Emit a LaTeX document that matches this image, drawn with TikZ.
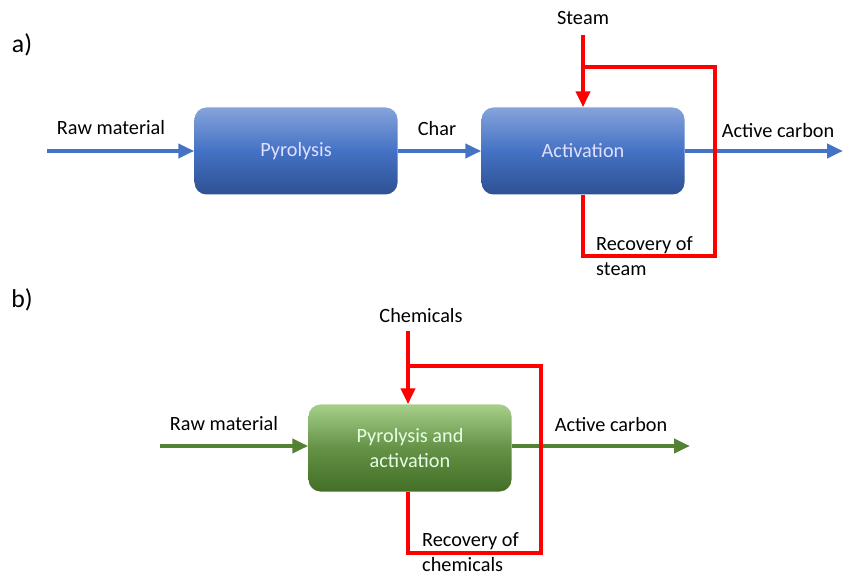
\documentclass[tikz,border=0pt]{standalone}
\usepackage{fontspec}
\setmainfont{Carlito}
\usepackage{tikz}
\usetikzlibrary{positioning}
\usetikzlibrary{arrows.meta}

\definecolor{flowBlue}{HTML}{4472C4}
\definecolor{flowGreen}{HTML}{548235}
\definecolor{loopRed}{HTML}{FF0000}
\definecolor{blueTop}{HTML}{86A3DA}
\definecolor{blueBtm}{HTML}{2E5193}
\definecolor{greenTop}{HTML}{A6D08A}
\definecolor{greenBtm}{HTML}{436E26}

\tikzset{
	lbl/.style={font=\fontsize{17.3}{21}\selectfont, inner sep=0pt},
	blueBox/.style={rectangle, rounded corners=0.36cm, minimum width=6.09cm, minimum height=2.61cm, top color=blueTop, bottom color=blueBtm, middle color=flowBlue, text=white!88!blue, font=\fontsize{17.3}{21}\selectfont, align=center},
	greenBox/.style={rectangle, rounded corners=0.36cm, minimum width=6.09cm, minimum height=2.61cm, top color=greenTop, bottom color=greenBtm, middle color=flowGreen!80!greenTop, text=white!90!green, font=\fontsize{17.3}{21}\selectfont, align=center},
	blueFlow/.style={draw=flowBlue, line width=0.12cm, -{Triangle[length=0.48cm, width=0.42cm]}},
	greenFlow/.style={draw=flowGreen, line width=0.12cm, -{Triangle[length=0.48cm, width=0.42cm]}},
	redFlow/.style={draw=loopRed, line width=0.12cm, -{Triangle[length=0.48cm, width=0.42cm]}},
	redLoop/.style={draw=loopRed, line width=0.12cm}
}

\begin{document}
\begin{tikzpicture}[x=0.03cm, y=-0.03cm]
	\useasboundingbox (0,0) rectangle (843,573);

	% a) two-step process
	\node[lbl, font=\fontsize{22}{26}\selectfont](labelA) at (22,45){a)};

	\node[blueBox](pyrolysis) at (296,151){Pyrolysis};
	\node[blueBox](activation) at (583,151){Activation};

	\coordinate(rawStartA) at (47,151);
	\coordinate(carbonEndA) at (843,151);
	\draw[blueFlow](rawStartA) -- (pyrolysis.west);
	\draw[blueFlow](pyrolysis.east) -- (activation.west);
	\draw[blueFlow](activation.east) -- (carbonEndA);

	\node[lbl](rawLabelA) at (111,128){Raw material};
	\node[lbl](charLabel) at (437,129){Char};
	\node[lbl](carbonLabelA) at (778,131){Active carbon};

	\node[lbl](steamLabel) at (583,18){Steam};
	\coordinate(steamTop) at (583,35);
	\coordinate(steamJoin) at (583,67);
	\draw[redFlow](steamTop) -- (activation.north);
	\draw[redLoop, line join=miter](activation.south) -- (583,256) -- (715,256) -- (715,67) -- (steamJoin);

	\node[lbl, anchor=west, align=left](steamRecovery) at (596,256){Recovery of\\steam};

	% b) one-step process
	\node[lbl, font=\fontsize{22}{26}\selectfont](labelB) at (22,300){b)};

	\node[greenBox](pyroActivation) at (410,448){Pyrolysis and\\activation};

	\coordinate(rawStartB) at (160,446);
	\coordinate(carbonEndB) at (690,446);
	\draw[greenFlow](rawStartB) -- (rawStartB -| pyroActivation.west);
	\draw[greenFlow](pyroActivation.east |- carbonEndB) -- (carbonEndB);

	\node[lbl](rawLabelB) at (224,424){Raw material};
	\node[lbl](carbonLabelB) at (611,425){Active carbon};

	\node[lbl](chemLabel) at (421,316){Chemicals};
	\coordinate(chemTop) at (408,331);
	\coordinate(chemJoin) at (408,366);
	\draw[redFlow](chemTop) -- (chemTop |- pyroActivation.north);
	\draw[redLoop, line join=miter](chemTop |- pyroActivation.south) -- (408,553) -- (541,553) -- (541,366) -- (chemJoin);

	\node[lbl, anchor=west, align=left](chemRecovery) at (422,552){Recovery of\\chemicals};

\end{tikzpicture}
\end{document}
